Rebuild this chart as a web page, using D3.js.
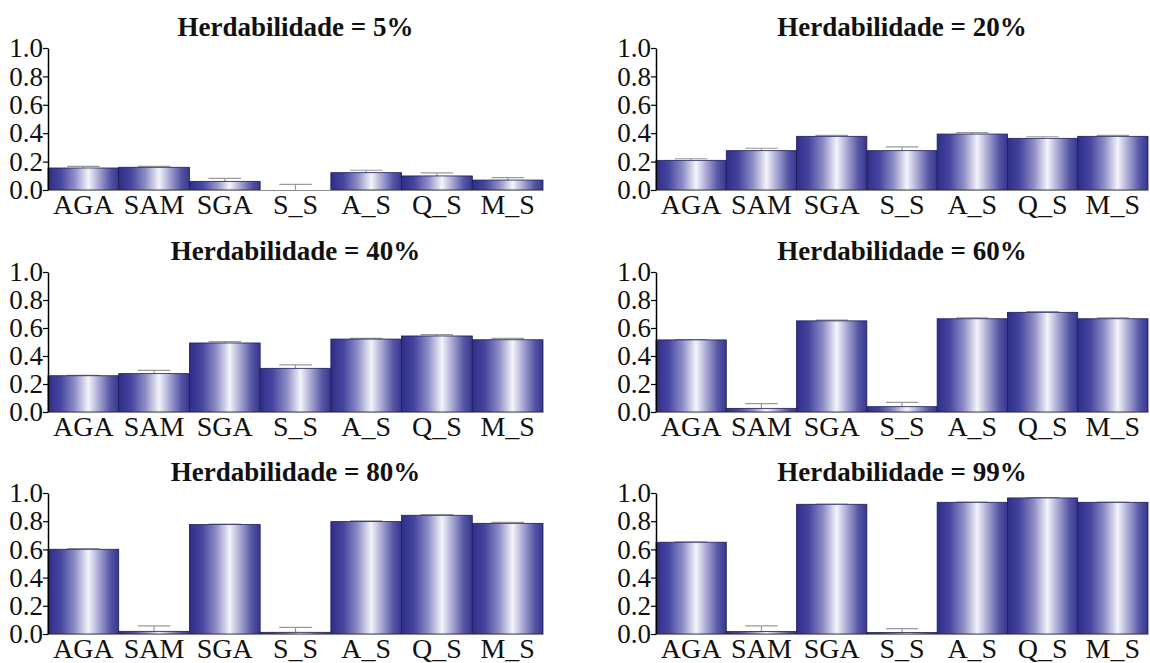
<!DOCTYPE html>
<html>
<head>
<meta charset="utf-8">
<script src="https://cdn.jsdelivr.net/npm/d3@7"></script>
<style>
  html, body { margin: 0; padding: 0; background: #fff; }
  svg { display: block; }
  svg text { fill: #111; }
</style>
</head>
<body>
<svg id="chart" width="1150" height="663"></svg>
<script>
// Selection methods compared in each panel
const methods = ["AGA", "SAM", "SGA", "S_S", "A_S", "Q_S", "M_S"];

// Heritability scenarios (panel titles)
const heritabilities = ["5%", "20%", "40%", "60%", "80%", "99%"];

// Mean accuracy per method, one array per heritability
const h05 = [0.155, 0.160, 0.061, 0.000, 0.122, 0.099, 0.070];
const h20 = [0.209, 0.277, 0.378, 0.277, 0.394, 0.364, 0.378];
const h40 = [0.259, 0.274, 0.493, 0.312, 0.521, 0.543, 0.516];
const h60 = [0.515, 0.026, 0.651, 0.038, 0.666, 0.712, 0.666];
const h80 = [0.601, 0.019, 0.776, 0.012, 0.797, 0.842, 0.785];
const h99 = [0.651, 0.017, 0.920, 0.010, 0.934, 0.965, 0.934];

// Standard errors (upper whisker length)
const e05 = [0.012, 0.007, 0.021, 0.040, 0.017, 0.021, 0.017];
const e20 = [0.011, 0.017, 0.007, 0.026, 0.010, 0.011, 0.007];
const e40 = [0.003, 0.023, 0.009, 0.024, 0.005, 0.009, 0.010];
const e60 = [0.003, 0.034, 0.005, 0.031, 0.007, 0.005, 0.007];
const e80 = [0.005, 0.038, 0.004, 0.035, 0.005, 0.004, 0.007];
const e99 = [0.002, 0.040, 0.002, 0.028, 0.002, 0.002, 0.002];

// Y axis tick values
const yTicks = [0.0, 0.2, 0.4, 0.6, 0.8, 1.0];

const values = [h05, h20, h40, h60, h80, h99];
const errors = [e05, e20, e40, e60, e80, e99];

const FONT = "'Liberation Serif', 'Times New Roman', Times, serif";

const svg = d3.select("#chart");

// Horizontal shaded gradient used for every bar
const grad = svg.append("defs").append("linearGradient")
  .attr("id", "barShade")
  .attr("x1", "0").attr("x2", "1").attr("y1", "0").attr("y2", "0");
[
  [0.00, "#2e2e88"],
  [0.18, "#4646a0"],
  [0.38, "#8e8ec6"],
  [0.57, "#f4f4fb"],
  [0.72, "#a6a6d2"],
  [0.88, "#5656a6"],
  [1.00, "#36368e"]
].forEach(([o, c]) => grad.append("stop").attr("offset", o).attr("stop-color", c));

// Panel frames: [left, right] in x, [top (1.0), bottom (0.0)] in y
const cols = [[48, 543], [656, 1148]];
const rows = [[48, 190], [272, 412], [493, 634]];

heritabilities.forEach((h, i) => {
  const [x0, x1] = cols[i % 2];
  const [yTop, yBot] = rows[Math.floor(i / 2)];

  const x = d3.scaleBand().domain(methods).range([x0, x1]).padding(0);
  const y = d3.scaleLinear().domain([0, 1]).range([yBot, yTop]);

  const g = svg.append("g");

  const data = methods.map((m, k) => ({ m, v: values[i][k], e: errors[i][k] }));

  // Whiskers (upper half only, drawn above the bar top)
  const eb = g.append("g").attr("stroke", "#9a9a9a").attr("stroke-width", 1.2).attr("fill", "none");
  const capW = x.bandwidth() * 0.46;
  data.forEach(d => {
    const cx = x(d.m) + x.bandwidth() / 2;
    eb.append("line").attr("x1", cx).attr("x2", cx).attr("y1", y(d.v)).attr("y2", y(d.v + d.e));
    eb.append("line").attr("x1", cx - capW / 2).attr("x2", cx + capW / 2)
      .attr("y1", y(d.v + d.e)).attr("y2", y(d.v + d.e));
  });

  // Bars
  g.append("g").selectAll("rect").data(data).join("rect")
    .attr("x", d => x(d.m))
    .attr("y", d => y(d.v))
    .attr("width", x.bandwidth())
    .attr("height", d => y(0) - y(d.v))
    .attr("fill", "url(#barShade)")
    .attr("stroke", d => d.v > 0 ? "#1d1d58" : "none")
    .attr("stroke-width", 0.8);

  // X axis (category labels)
  const xa = g.append("g").attr("transform", `translate(0,${yBot})`)
    .call(d3.axisBottom(x).tickSize(0).tickPadding(4));
  xa.attr("font-family", FONT).attr("font-size", 28);
  xa.select(".domain").attr("stroke", "#8a8a8a").attr("stroke-width", 1.2);
  xa.selectAll("text").attr("fill", "#111");

  // Y axis
  const ya = g.append("g").attr("transform", `translate(${x0},0)`)
    .call(d3.axisLeft(y).tickValues(yTicks).tickFormat(d3.format(".1f")).tickSize(5).tickSizeOuter(0).tickPadding(0));
  ya.attr("font-family", FONT).attr("font-size", 27);
  ya.select(".domain").attr("stroke", "#000").attr("stroke-width", 1.5);
  ya.selectAll(".tick line").attr("stroke", "#000").attr("stroke-width", 1.2);
  ya.selectAll("text").attr("fill", "#111");

  // Panel title
  g.append("text")
    .attr("x", (x0 + x1) / 2)
    .attr("y", yTop - 12)
    .attr("text-anchor", "middle")
    .attr("font-family", FONT)
    .attr("font-size", 27)
    .attr("font-weight", "bold")
    .text(`Herdabilidade = ${h}`);
});
</script>
</body>
</html>
